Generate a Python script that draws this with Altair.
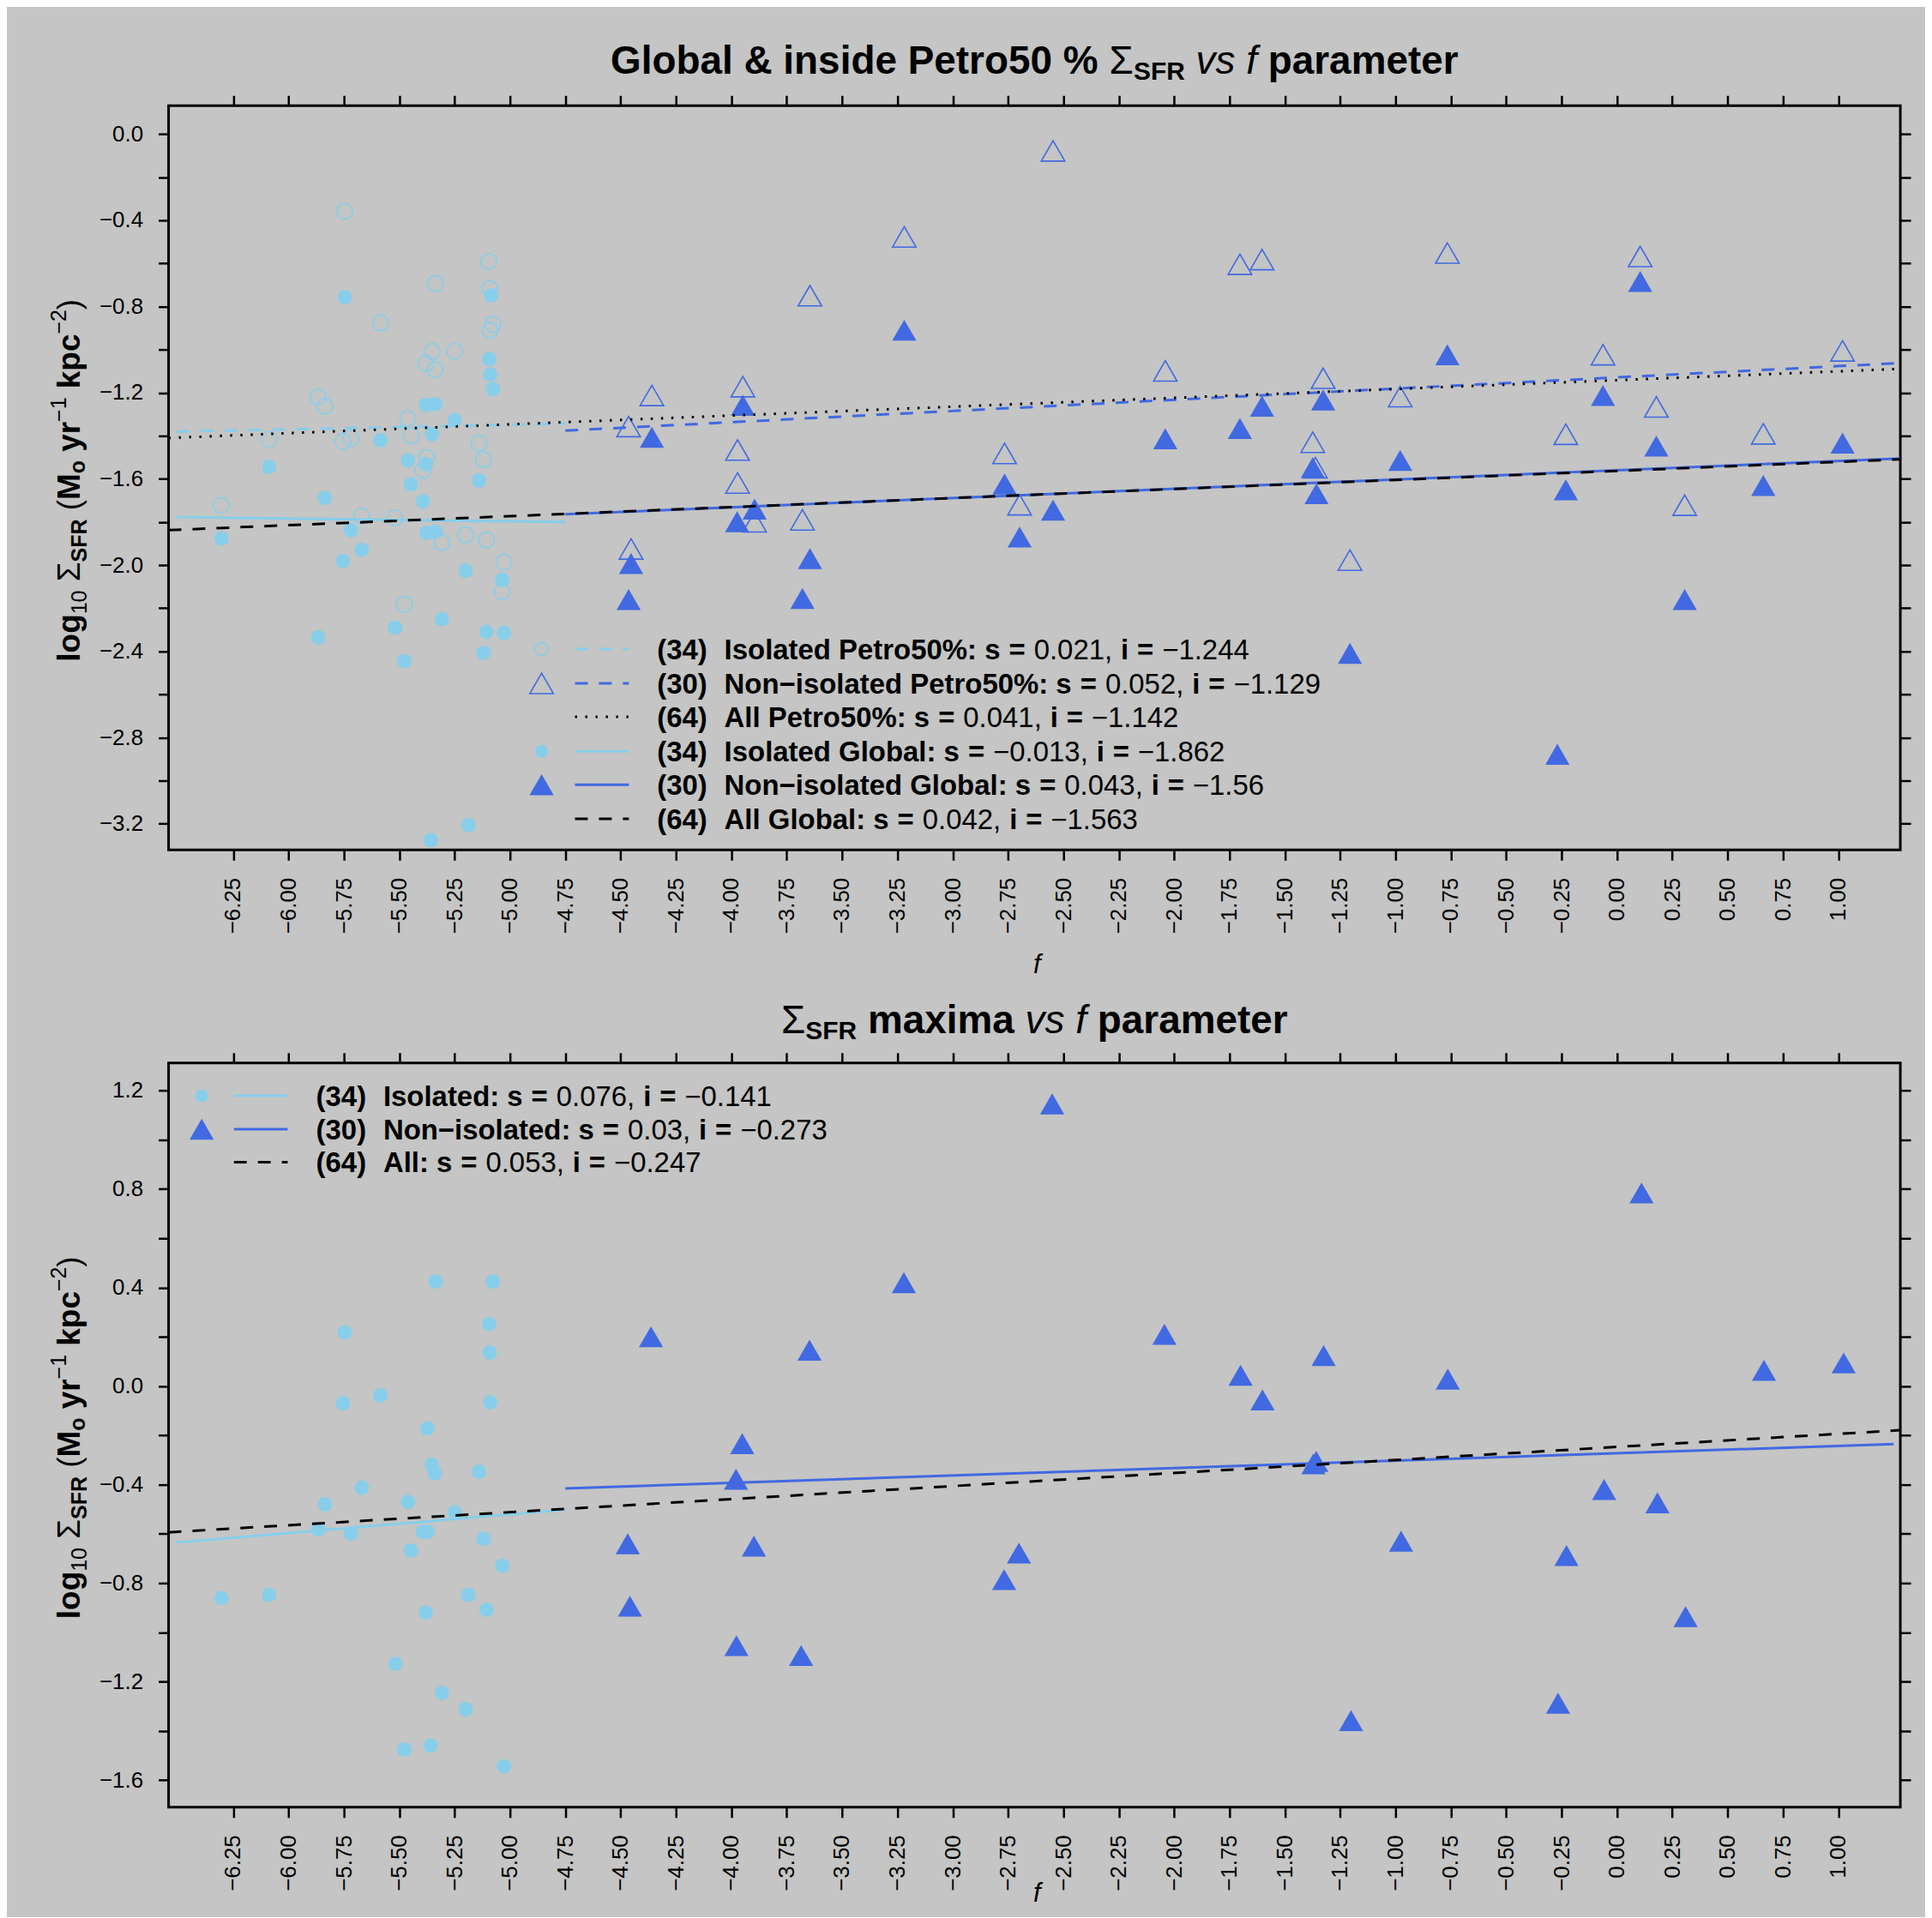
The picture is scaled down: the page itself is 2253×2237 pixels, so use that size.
import altair as alt
import pandas as pd

FONT = "Liberation Sans"
SKY = "#87CEEB"
ROYAL = "#4169E1"
BG = "#C4C5C4"

# ---------------- data ----------------
# Top panel, isolated galaxies, inside Petro50 (open circles)
iso_p50_f = [-5.746, -5.095, -5.338, -5.090, -5.585, -5.077, -5.091, -5.352, -5.250, -5.380, -5.339,
             -5.866, -5.836, -5.461, -5.447, -6.088, -5.754, -5.718, -5.140, -5.376, -5.120, -5.393,
             -6.304, -5.669, -5.519, -5.200, -5.107, -5.307, -5.027, -5.035, -5.477]
iso_p50_v = [-0.358, -0.591, -0.693, -0.718, -0.876, -0.883, -0.910, -1.008, -1.008, -1.065, -1.092,
             -1.220, -1.263, -1.320, -1.400, -1.416, -1.425, -1.412, -1.434, -1.501, -1.510, -1.560,
             -1.722, -1.772, -1.781, -1.859, -1.884, -1.895, -1.986, -2.125, -2.182]
# Top panel, isolated galaxies, global (filled circles)
iso_glob_f = [-5.746, -5.085, -5.093, -5.089, -5.077, -5.380, -5.338, -5.249, -5.352, -5.585, -6.088,
              -5.461, -5.380, -5.447, -5.140, -5.836, -5.393, -6.303, -5.718, -5.377, -5.336, -5.669,
              -5.754, -5.200, -5.035, -5.307, -5.518, -5.866, -5.106, -5.027, -5.120, -5.477, -5.187,
              -5.358]
iso_glob_v = [-0.757, -0.748, -1.044, -1.115, -1.184, -1.257, -1.254, -1.327, -1.393, -1.421, -1.544,
              -1.514, -1.532, -1.626, -1.608, -1.688, -1.704, -1.877, -1.838, -1.852, -1.845, -1.929,
              -1.982, -2.027, -2.068, -2.251, -2.290, -2.335, -2.310, -2.315, -2.408, -2.445, -3.206,
              -3.277]
# Top panel, non-isolated galaxies, inside Petro50 (open triangles)
non_p50_f = [-2.547, -3.219, -3.645, -4.359, -3.948, -4.464, -3.972, -3.972, -3.895, -3.679, -2.766,
             -2.698, -4.453, -2.040, -1.703, -1.603, -0.766, 0.105, -1.327, -0.979, -0.063, 0.178,
             1.019, -1.374, -1.362, -0.231, 0.661, 0.306, -1.206]
non_p50_v = [-0.078, -0.477, -0.750, -1.213, -1.172, -1.357, -1.466, -1.619, -1.799, -1.790, -1.482,
             -1.720, -1.925, -1.099, -0.604, -0.582, -0.552, -0.568, -1.133, -1.218, -1.024, -1.266,
             -1.006, -1.430, -1.548, -1.393, -1.391, -1.722, -1.977]
# Top panel, non-isolated galaxies, global (filled triangles)
non_glob_f = [-3.219, -3.948, -4.359, -3.895, -3.974, -4.453, -3.645, -4.464, -3.679, -2.766, -2.547,
              -2.698, -2.040, -1.703, -1.603, -1.327, -0.766, 0.105, -0.063, -1.374, -1.357, -0.979,
              -0.231, 0.178, 0.661, 1.019, 0.306, -1.206, -0.269]
non_glob_v = [-0.910, -1.259, -1.407, -1.740, -1.799, -1.993, -1.970, -2.160, -2.155, -1.624, -1.745,
              -1.870, -1.414, -1.366, -1.263, -1.234, -1.024, -0.684, -1.213, -1.548, -1.669, -1.514,
              -1.651, -1.448, -1.631, -1.434, -2.160, -2.410, -2.878]
# Bottom panel, maxima, isolated (filled circles)
iso_max_f = [-5.336, -5.077, -5.094, -5.746, -5.091, -5.585, -5.754, -5.089, -5.372, -5.353, -5.339,
             -5.140, -5.669, -5.836, -5.460, -5.249, -5.866, -5.718, -5.393, -5.371, -5.120, -5.447,
             -5.035, -6.303, -6.088, -5.188, -5.106, -5.380, -5.517, -5.307, -5.200, -5.477, -5.358,
             -5.027]
iso_max_v = [0.424, 0.424, 0.252, 0.218, 0.136, -0.038, -0.070, -0.066, -0.172, -0.320, -0.354,
             -0.348, -0.412, -0.480, -0.470, -0.512, -0.582, -0.598, -0.592, -0.592, -0.620, -0.668,
             -0.730, -0.860, -0.848, -0.848, -0.908, -0.920, -1.128, -1.246, -1.312, -1.476, -1.460,
             -1.544]
# Bottom panel, maxima, non-isolated (filled triangles)
non_max_f = [-2.551, -3.221, -4.363, -3.647, -2.044, -3.951, -3.979, -4.468, -3.898, -2.701, -2.768,
             -4.458, -3.977, -3.685, -1.700, -1.601, -1.325, -0.764, 0.111, 0.664, 1.024, -1.358,
             -1.371, -0.058, 0.183, -0.975, -0.228, 0.310, -0.266, -1.201]
non_max_v = [1.146, 0.420, 0.200, 0.146, 0.210, -0.234, -0.378, -0.640, -0.650, -0.678, -0.786,
             -0.894, -1.054, -1.094, 0.044, -0.056, 0.124, 0.028, 0.784, 0.064, 0.094, -0.306,
             -0.316, -0.420, -0.474, -0.630, -0.688, -0.936, -1.288, -1.358]

# Fits: slope, intercept
top_fit_names = ["iso_p50", "non_p50", "all_p50", "iso_glob", "non_glob", "all_glob"]
top_fit_s = [0.021, 0.052, 0.041, -0.013, 0.043, 0.042]
top_fit_i = [-1.244, -1.129, -1.142, -1.862, -1.56, -1.563]
bot_fit_names = ["iso", "non", "all"]
bot_fit_s = [0.076, 0.03, 0.053]
bot_fit_i = [-0.141, -0.273, -0.247]

# Tick values
XT = [-6.25, -6.0, -5.75, -5.5, -5.25, -5.0, -4.75, -4.5, -4.25, -4.0, -3.75, -3.5, -3.25, -3.0,
      -2.75, -2.5, -2.25, -2.0, -1.75, -1.5, -1.25, -1.0, -0.75, -0.5, -0.25, 0.0, 0.25, 0.5, 0.75, 1.0]
YT_TOP = [0.0, -0.2, -0.4, -0.6, -0.8, -1.0, -1.2, -1.4, -1.6, -1.8, -2.0, -2.2, -2.4, -2.6, -2.8,
          -3.0, -3.2]
YT_BOT = [1.2, 1.0, 0.8, 0.6, 0.4, 0.2, 0.0, -0.2, -0.4, -0.6, -0.8, -1.0, -1.2, -1.4, -1.6]

XDOM = [-6.542, 1.28]
YDOM_TOP = [-3.322, 0.132]
YDOM_BOT = [-1.710, 1.312]

W, H = 2024, 870

# ---------------- helpers ----------------
REG = {' ': 278, '%': 889, '&': 667, '(': 333, ')': 333, ',': 278, '-': 333, '.': 278, ':': 278,
       '=': 584, '\u2212': 584, '\u03a3': 618}
BOLD = {' ': 278, '%': 889, '&': 722, '(': 333, ')': 333, ',': 278, '-': 333, '.': 278, ':': 333,
        '=': 584, '\u2212': 584, '\u03a3': 618}
for c in "0123456789":
    REG[c] = 556
    BOLD[c] = 556
REG.update(dict(zip("ABCDEFGHIJKLMNOPQRSTUVWXYZ",
                    [667, 667, 722, 722, 667, 611, 778, 722, 278, 500, 667, 556, 833, 722, 778, 667,
                     778, 722, 667, 611, 722, 667, 944, 667, 667, 611])))
REG.update(dict(zip("abcdefghijklmnopqrstuvwxyz",
                    [556, 556, 500, 556, 556, 278, 556, 556, 222, 222, 500, 222, 833, 556, 556, 556,
                     556, 333, 500, 278, 556, 500, 722, 500, 500, 500])))
BOLD.update(dict(zip("ABCDEFGHIJKLMNOPQRSTUVWXYZ",
                     [722, 722, 722, 722, 667, 611, 778, 722, 278, 556, 722, 611, 833, 722, 778, 667,
                      778, 722, 667, 611, 722, 667, 944, 667, 667, 611])))
BOLD.update(dict(zip("abcdefghijklmnopqrstuvwxyz",
                     [556, 611, 556, 611, 556, 333, 611, 611, 278, 278, 556, 278, 889, 611, 611, 611,
                      611, 389, 556, 333, 611, 556, 778, 556, 556, 500])))


def tw(text, size, bold):
    tab = BOLD if bold else REG
    return sum(tab.get(c, 556) for c in text) * size / 1000.0


ONE = [{"a": 1}]


def piece(text, x, y, size, bold=False, italic=False, angle=0):
    return alt.Chart(alt.Data(values=ONE)).mark_text(
        text=text, font=FONT, fontSize=size, fontWeight="bold" if bold else "normal",
        fontStyle="italic" if italic else "normal", align="left", baseline="alphabetic",
        angle=angle, color="black"
    ).encode(x=alt.value(x), y=alt.value(y))


def hline(segs, cx, by):
    """segs: (text, size, bold, italic, dy); centred at cx, baseline by"""
    total = sum(tw(t, s, b) for t, s, b, i, d in segs)
    x = cx - total / 2.0
    out = []
    for t, s, b, i, d in segs:
        lead = len(t) - len(t.lstrip(" "))
        stripped = t.strip(" ")
        if stripped:
            out.append(piece(stripped, x + tw(" " * lead, s, b), by + d, s, b, i))
        x += tw(t, s, b)
    return out


def vline(segs, bx, cy):
    """rotated text reading upward; dy>0 = subscript (moves right)"""
    total = sum(tw(t, s, b) for t, s, b, i, d in segs)
    y = cy + total / 2.0
    out = []
    for t, s, b, i, d in segs:
        lead = len(t) - len(t.lstrip(" "))
        stripped = t.strip(" ")
        if stripped:
            out.append(piece(stripped, bx + d, y - tw(" " * lead, s, b), s, b, i, angle=270))
        y -= tw(t, s, b)
    return out


LEG_SIZE = 33


def legend_row(parts, x0, cy):
    """parts: (text, bold, gap_em_before)"""
    out = []
    x = x0
    by = cy + 0.36 * LEG_SIZE
    for t, b, g in parts:
        x += g * LEG_SIZE
        out.append(piece(t, x, by, LEG_SIZE, b))
        x += tw(t, LEG_SIZE, b)
    return out


def row_parts(head, s, i):
    return [(head[0], True, 0), (head[1], True, 0.6), ("=", True, 0.3), (s, False, 0.3),
            ("i", True, 0.3), ("=", True, 0.3), (i, False, 0.3)]


def xenc(axis=None):
    return alt.X("f:Q", scale=alt.Scale(domain=XDOM, nice=False, zero=False), axis=axis)


def yenc(dom, axis=None):
    return alt.Y("v:Q", scale=alt.Scale(domain=dom, nice=False, zero=False), axis=axis)


LBL_EXPR = "abs(round(datum.value*10)) % 4 == 0 ? format(datum.value, '.1f') : ''"


def axes(yt):
    common = dict(labelFont=FONT, labelFontSize=26, labelColor="black", tickSize=12, tickWidth=2.5,
                  tickColor="black", domain=False, grid=False, title=None, labelOverlap=False,
                  labelFlush=False, labelBound=False)
    bottom = alt.Axis(orient="bottom", values=XT, format=".2f", labelAngle=270, labelPadding=20,
                      **common)
    top = alt.Axis(orient="top", values=XT, labels=False, **common)
    left = alt.Axis(orient="left", values=yt, labelExpr=LBL_EXPR, labelAngle=0, labelPadding=18,
                    **common)
    right = alt.Axis(orient="right", values=yt, labels=False, **common)
    return bottom, top, left, right


def pts(f, v, dom, shape, filled, color, size, axis_pair=None):
    df = pd.DataFrame({"f": f, "v": v})
    if filled:
        mk = alt.Chart(df).mark_point(shape=shape, filled=True, size=size, color=color, opacity=1)
    else:
        mk = alt.Chart(df).mark_point(shape=shape, filled=False, size=size, color=color,
                                      strokeWidth=1.6, opacity=1)
    xa, ya = (axis_pair if axis_pair else (None, None))
    return mk.encode(x=xenc(xa), y=yenc(dom, ya))


def fitline(s, i, x0, x1, dom, color, dash, width=3):
    df = pd.DataFrame({"f": [x0, x1], "v": [s * x0 + i, s * x1 + i]})
    kw = dict(color=color, strokeWidth=width, clip=True)
    if dash:
        kw["strokeDash"] = dash
    return alt.Chart(df).mark_line(**kw).encode(x=xenc(), y=yenc(dom))


DASH = [15, 13]
DOT = [2.5, 9.5]

CIRC_F, CIRC_O, TRI_F, TRI_O = 289, 340, 800, 760

# ---------------- top panel ----------------
b_ax, t_ax, l_ax, r_ax = axes(YT_TOP)
top_layers = [
    pts(iso_p50_f, iso_p50_v, YDOM_TOP, "circle", False, SKY, CIRC_O, (b_ax, l_ax)),
    pts(iso_glob_f, iso_glob_v, YDOM_TOP, "circle", True, SKY, CIRC_F, (t_ax, r_ax)),
    pts(non_p50_f, non_p50_v, YDOM_TOP, "triangle-up", False, ROYAL, TRI_O),
    pts(non_glob_f, non_glob_v, YDOM_TOP, "triangle-up", True, ROYAL, TRI_F),
]
ranges_top = [(-6.505, -4.75), (-4.75, 1.28), (-6.542, 1.28), (-6.505, -4.75), (-4.75, 1.28),
              (-6.542, 1.28)]
colors_top = [SKY, ROYAL, "black", SKY, ROYAL, "black"]
dashes_top = [DASH, DASH, DOT, None, None, DASH]
for k in [3, 4, 0, 1, 2, 5]:
    top_layers.append(fitline(top_fit_s[k], top_fit_i[k], ranges_top[k][0], ranges_top[k][1],
                              YDOM_TOP, colors_top[k], dashes_top[k]))

# title
top_layers += hline([("Global & inside Petro50 % ", 46, True, False, 0),
                     ("\u03a3", 46, False, False, 0),
                     ("SFR", 30, True, False, 7),
                     (" vs", 46, False, True, 0),
                     (" f", 46, False, True, 0),
                     (" parameter", 46, True, False, 0)], W / 2.0, -37)
# y title
YSEGS = [("log", 37, True, False, 0), ("10", 25, False, False, 8), (" \u03a3", 37, False, False, 0),
         ("SFR", 25, True, False, 8), (" (", 37, False, False, 0), ("M", 37, True, False, 0),
         ("o", 25, True, False, 6), (" yr", 37, True, False, 0), ("\u22121", 25, False, False, -16),
         (" kpc", 37, True, False, 0), ("\u22122", 25, False, False, -16), (")", 37, False, False, 0)]
top_layers += vline(YSEGS, -104, 438)
# x title
top_layers.append(alt.Chart(alt.Data(values=ONE)).mark_text(
    text="f", font=FONT, fontSize=31, fontStyle="italic", align="center", baseline="alphabetic",
    color="black").encode(x=alt.value(1015), y=alt.value(1014)))

# legend (top)
LX_SYM, LX_L0, LX_L1, LX_T = 436, 475, 538, 571
top_rows = [635.3, 675.3, 714.3, 754.7, 793.7, 833.7]
top_legend_heads = [("(34)", "Isolated Petro50%: s"), ("(30)", "Non\u2212isolated Petro50%: s"),
                    ("(64)", "All Petro50%: s"), ("(34)", "Isolated Global: s"),
                    ("(30)", "Non\u2212isolated Global: s"), ("(64)", "All Global: s")]
top_legend_s = ["0.021,", "0.052,", "0.041,", "\u22120.013,", "0.043,", "0.042,"]
top_legend_i = ["\u22121.244", "\u22121.129", "\u22121.142", "\u22121.862", "\u22121.56", "\u22121.563"]
leg_sym = [("circle", False, SKY, 240), ("triangle-up", False, ROYAL, TRI_O), None,
           ("circle", True, SKY, 225), ("triangle-up", True, ROYAL, TRI_F), None]
leg_line = [(SKY, DASH), (ROYAL, DASH), ("black", DOT), (SKY, None), (ROYAL, None), ("black", DASH)]
for r in range(6):
    cy = top_rows[r]
    if leg_sym[r]:
        shp, fil, col, sz = leg_sym[r]
        top_layers.append(alt.Chart(alt.Data(values=ONE)).mark_point(
            shape=shp, filled=fil, color=col, size=sz, opacity=1, strokeWidth=1.6
        ).encode(x=alt.value(LX_SYM), y=alt.value(cy)))
    col, dsh = leg_line[r]
    kw = dict(color=col, strokeWidth=3)
    if dsh:
        kw["strokeDash"] = dsh
    top_layers.append(alt.Chart(alt.Data(values=ONE)).mark_rule(**kw).encode(
        x=alt.value(LX_L0), x2=alt.value(LX_L1), y=alt.value(cy)))
    top_layers += legend_row(row_parts(top_legend_heads[r], top_legend_s[r], top_legend_i[r]),
                             LX_T, cy)

top = alt.layer(*top_layers).properties(width=W, height=H).resolve_scale(
    x="independent", y="independent").resolve_axis(x="independent", y="independent")

# ---------------- bottom panel ----------------
b_ax2, t_ax2, l_ax2, r_ax2 = axes(YT_BOT)
bot_layers = [
    pts(iso_max_f, iso_max_v, YDOM_BOT, "circle", True, SKY, CIRC_F, (b_ax2, l_ax2)),
    pts(non_max_f, non_max_v, YDOM_BOT, "triangle-up", True, ROYAL, TRI_F, (t_ax2, r_ax2)),
]
ranges_bot = [(-6.505, -4.75), (-4.75, 1.25), (-6.542, 1.28)]
colors_bot = [SKY, ROYAL, "black"]
dashes_bot = [None, None, DASH]
for k in range(3):
    bot_layers.append(fitline(bot_fit_s[k], bot_fit_i[k], ranges_bot[k][0], ranges_bot[k][1],
                              YDOM_BOT, colors_bot[k], dashes_bot[k]))

bot_layers += hline([("\u03a3", 46, False, False, 0),
                     ("SFR", 30, True, False, 7),
                     (" maxima", 46, True, False, 0),
                     (" vs", 46, False, True, 0),
                     (" f", 46, False, True, 0),
                     (" parameter", 46, True, False, 0)], W / 2.0, -35)
bot_layers += vline(YSEGS, -104, 438)
bot_layers.append(alt.Chart(alt.Data(values=ONE)).mark_text(
    text="f", font=FONT, fontSize=31, fontStyle="italic", align="center", baseline="alphabetic",
    color="black").encode(x=alt.value(1015), y=alt.value(980)))

BX_SYM, BX_L0, BX_L1, BX_T = 38.7, 76.4, 139.2, 172.4
bot_rows = [38.3, 77.5, 116.0]
bot_heads = [("(34)", "Isolated: s"), ("(30)", "Non\u2212isolated: s"), ("(64)", "All: s")]
bot_s = ["0.076,", "0.03,", "0.053,"]
bot_i = ["\u22120.141", "\u22120.273", "\u22120.247"]
bot_sym = [("circle", True, SKY, 225), ("triangle-up", True, ROYAL, TRI_F), None]
bot_line = [(SKY, None), (ROYAL, None), ("black", DASH)]
for r in range(3):
    cy = bot_rows[r]
    if bot_sym[r]:
        shp, fil, col, sz = bot_sym[r]
        bot_layers.append(alt.Chart(alt.Data(values=ONE)).mark_point(
            shape=shp, filled=fil, color=col, size=sz, opacity=1
        ).encode(x=alt.value(BX_SYM), y=alt.value(cy)))
    col, dsh = bot_line[r]
    kw = dict(color=col, strokeWidth=3)
    if dsh:
        kw["strokeDash"] = dsh
    bot_layers.append(alt.Chart(alt.Data(values=ONE)).mark_rule(**kw).encode(
        x=alt.value(BX_L0), x2=alt.value(BX_L1), y=alt.value(cy)))
    bot_layers += legend_row(row_parts(bot_heads[r], bot_s[r], bot_i[r]), BX_T, cy)

bottom = alt.layer(*bot_layers).properties(width=W, height=H).resolve_scale(
    x="independent", y="independent").resolve_axis(x="independent", y="independent")

chart = alt.vconcat(top, bottom, spacing=249, bounds="flush").properties(
    padding={"left": 47, "top": 37, "right": 14, "bottom": 8}
).configure(background=BG).configure_view(stroke="black", strokeWidth=3)

chart.save("out.html", embed_options={"renderer": "svg", "actions": False})
